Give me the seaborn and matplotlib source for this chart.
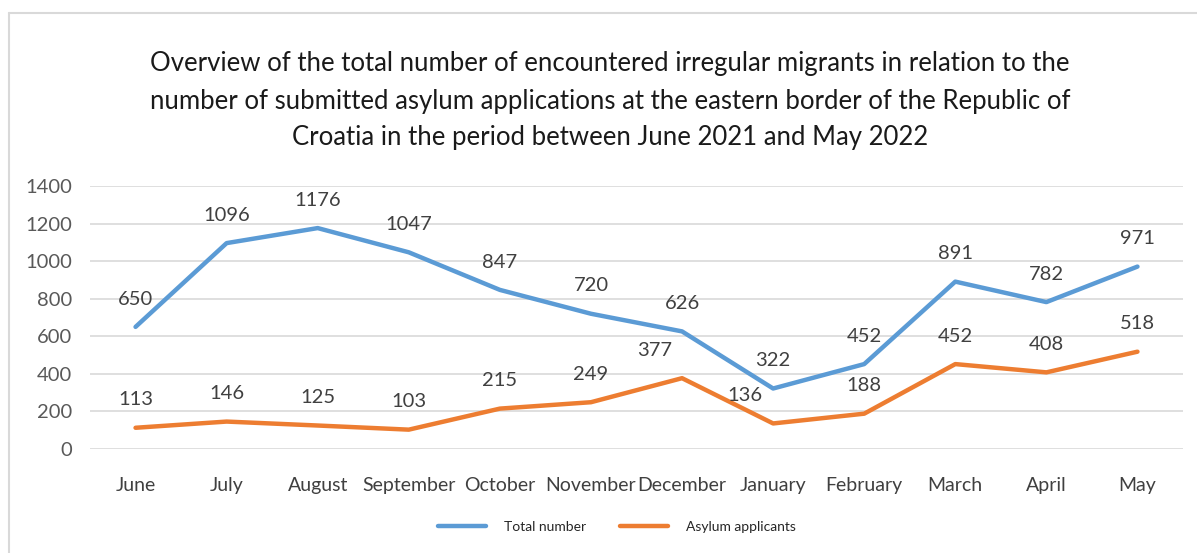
import pandas as pd
import seaborn as sns
import matplotlib.pyplot as plt
from matplotlib.lines import Line2D

months = ["June", "July", "August", "September", "October", "November",
          "December", "January", "February", "March", "April", "May"]
total_number = [650, 1096, 1176, 1047, 847, 720, 626, 322, 452, 891, 782, 971]
asylum_applicants = [113, 146, 125, 103, 215, 249, 377, 136, 188, 452, 408, 518]
series_names = ["Total number", "Asylum applicants"]
colors = ["#5B9BD5", "#ED7D31"]

title = ("Overview of the total number of encountered irregular migrants in relation to the\n"
         "number of submitted asylum applications at the eastern border of the Republic of\n"
         "Croatia in the period between June 2021 and May 2022")

df = pd.DataFrame({
    "month": months * 2,
    "x": list(range(len(months))) * 2,
    "value": total_number + asylum_applicants,
    "series": [series_names[0]] * len(months) + [series_names[1]] * len(months),
})

sns.set_theme(style="white")
plt.rcParams["font.family"] = ["Lato", "DejaVu Sans"]

fig = plt.figure(figsize=(11.97, 5.53), dpi=100)
ax = fig.add_axes([90 / 1197, 1 - 449 / 553, (1183 - 90) / 1197, (449 - 186) / 553])

sns.lineplot(data=df, x="x", y="value", hue="series", palette=colors,
             linewidth=3.2, ax=ax, legend=False, sort=False)

ax.set_xlim(-0.5, len(months) - 0.5)
ax.set_ylim(0, 1400)
ax.set_yticks(range(0, 1401, 200))
ax.set_xticks(range(len(months)))
ax.set_xticklabels(months)
ax.set_xlabel("")
ax.set_ylabel("")
ax.grid(axis="y", color="#D9D9D9", linewidth=1.2)
ax.set_axisbelow(True)
for s in ax.spines.values():
    s.set_visible(False)
ax.tick_params(axis="y", labelsize=14.5, colors="#595959", pad=13, length=0)
ax.tick_params(axis="x", labelsize=14, colors="#404040", pad=20, length=0)

# data labels, a couple nudged left like in the original
nudge = {("Asylum applicants", "December"): -20, ("Asylum applicants", "January"): -20}
for name, vals in zip(series_names, [total_number, asylum_applicants]):
    for i, v in enumerate(vals):
        dx = nudge.get((name, months[i]), 0)
        ax.annotate(str(v), (i, v), xytext=(dx, 20), textcoords="offset points",
                    ha="center", va="center", fontsize=14.5, color="#404040")

fig.text(610 / 1197, 1 - 101 / 553, title, ha="center", va="center",
         fontsize=18.5, color="#1a1a1a", linespacing=1.6)

handles = [Line2D([0], [0], color=c, linewidth=3.2) for c in colors]
fig.legend(handles, series_names, loc="center", bbox_to_anchor=(617 / 1197, 1 - 527 / 553),
           ncol=2, frameon=False, fontsize=10, handlelength=3.5, columnspacing=2.4,
           handletextpad=1.3, labelcolor="#262626")

# frame lines at top and left like the cropped chart box
fig.add_artist(Line2D([9 / 1197, 9 / 1197], [0, 1 - 13 / 553], color="#D9D9D9",
                      linewidth=1.5, transform=fig.transFigure))
fig.add_artist(Line2D([9 / 1197, 1], [1 - 13 / 553, 1 - 13 / 553], color="#D9D9D9",
                      linewidth=1.5, transform=fig.transFigure))

fig.savefig("out.png", dpi=100)
